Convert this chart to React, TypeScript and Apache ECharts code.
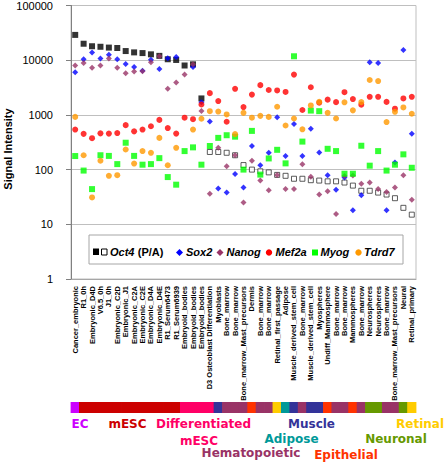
import React, { useEffect, useRef } from 'react';
import * as echarts from 'echarts';

const categories = [
  'Cancer_embryonic', 'R1_0h', 'Embryonic_D4D', 'V6.5_0h', 'J1_0h', 'Embryonic_C2D', 'Embryonic_J1',
  'Embryonic_C2A', 'Embryonic_C2E', 'Embryonic_D4A', 'Embryonic_D4E', 'R1_Serum6473', 'R1_Serum6939',
  'Embryoid_bodies', 'Embryoid_bodies', 'Embryoid_bodies', 'D3 Osteoblast Differentiation', 'Myoblasts',
  'Bone_marrow', 'Bone_marrow', 'Bone_marrow_Mast_precursors', 'Dermis', 'Bone_marrow', 'Bone_marrow',
  'Retinal_first_passage', 'Adipose', 'Muscle_derived_stem_cell', 'Bone_marrow', 'Muscle_derived_stem_cell',
  'Myospheres', 'Undiff_Mammosphere', 'Bone_marrow', 'Bone_marrow', 'Mammospheres', 'Bone_marrow',
  'Neurospheres', 'Neurospheres', 'Bone_marrow', 'Bone_marrow_Mast_precursors', 'Neural', 'Retinal_primary',
];

const N = null;
const oct4Present = [29000, 20000, 18000, 17600, 17000, 16700, 14700, 13900, 13500, 12800, 12000, 10400, 10100, 8000, 8400, 2000,
  N, N, N, N, N, N, N, N, N, N, N, N, N, N, N, N, N, N, N, N, N, N, N, N, N];
const oct4Absent = [N, N, N, N, N, N, N, N, N, N, N, N, N, N, N, N,
  210, 210, 203, 183, 121, 100, 93, 89, 80, 77, 68, 68, 64, 63, 61, 61, 58, 51, 41, 41, 38, 35, 30, 20, 15];
const sox2 = [6000, 10400, 13900, 10700, 12600, 10400, 8500, 7500, 6400, 10200,
  6900, 10800, 11500, N, 7500, 1700, 760, 45, 38, 83,
  47, 270, 120, 203, 910, 178, 680, 178, 560, 205,
  79, 43, 72, 18, 34, 9200, 8900, 18, 135, 15400, 450];
const nanog = [8000, 8900, 7300, 8000, 10700, 7300, 5800, 6200, 6300, 9200,
  11800, 3000, 3900, 5500, 8400, 1180, 36, 250, 115, 183,
  25, 145, 63, 42, 80, 44, 44, 125, 74, 35,
  40, 15.5, 76, 78, 55, 58, 44, 39, 47, 79, 28];
const mef2a = [540, 450, 375, 460, 455, 465, 650, 500, 540, 620,
  810, 575, 455, 890, 835, 1550, 2500, 1790, 750, 3000,
  1390, 2350, 3500, 2850, 2800, 2630, 5450, 1230, 3200, 1670,
  1900, 1710, 2600, 1950, 1540, 2140, 2140, 1730, 1300, 2000, 2140];
const myog = [177, 96, 44, 183, 178, 126, 310, 178, 123, 126,
  162, 73, 53, 218, 255, 123, 270, 380, 425, 400,
  100, 510, 81, 160, 230, 130, 11800, 325, 1200, 1170,
  240, 218, 84, 84, 273, 118, 218, 96, 123, 190, 108];
const tdrd7 = [920, 183, 31, 145, 77, 79, 233, 129, 218, 203,
  380, 120, 250, N, 540, 850, 1170, 1150, 1020, 445,
  1090, 890, 960, 920, 1410, 640, 860, 545, 1490, 1730,
  1090, 860, 1700, 1210, 1710, 4350, 4150, 740, 1140, 1370, 1050];

const tissueGroups = [
  'EC',
  'mESC', 'mESC', 'mESC', 'mESC', 'mESC', 'mESC', 'mESC', 'mESC', 'mESC', 'mESC', 'mESC', 'mESC',
  'Diff', 'Diff', 'Diff', 'Diff',
  'Muscle', 'Hemato', 'Hemato', 'Hemato', 'Epith', 'Hemato', 'Hemato', 'Retinal', 'Adipose', 'Muscle',
  'Hemato', 'Muscle', 'Muscle', 'Epith', 'Hemato', 'Hemato', 'Epith', 'Hemato', 'Neuronal', 'Neuronal',
  'Hemato', 'Hemato', 'Neuronal', 'Retinal',
];

const groupColors: Record<string, string> = {
  EC: '#cc00ff', mESC: '#cc0000', Diff: '#ff0066', Muscle: '#333399', Hemato: '#993366',
  Epith: '#ff3300', Retinal: '#ffcc00', Adipose: '#009999', Neuronal: '#669900',
};

const FONT = 'Arial, "Liberation Sans", sans-serif';
const BANDFONT = 'bold 12px "DejaVu Sans", sans-serif';

function diamond(cx: number, cy: number, r: number, color: string) {
  return {
    type: 'polygon',
    shape: { points: [[cx, cy - r], [cx + r, cy], [cx, cy + r], [cx - r, cy]] },
    style: { fill: color },
  };
}

function legendText(x: number, text: string) {
  return {
    type: 'text', x, y: 252,
    style: { text, font: `italic bold 11px ${FONT}`, fill: '#000', verticalAlign: 'middle' },
  };
}

function bandLabel(x: number, y: number, text: string, color: string, align = 'center') {
  return {
    type: 'text', x, y,
    style: { text, font: BANDFONT, fill: color, align, verticalAlign: 'middle' },
  };
}

export default function App() {
  const ref = useRef<HTMLDivElement>(null);
  useEffect(() => {
    document.body.style.margin = '0';
    const chart = echarts.init(ref.current!, null, { renderer: 'svg' });
    const scatter = (name: string, data: any[], symbol: string, size: number, color: string, extra: any = {}) => ({
      name, type: 'scatter', data, symbol, symbolSize: size,
      itemStyle: { color, ...extra }, xAxisIndex: 0, yAxisIndex: 0, silent: true,
    });
    chart.setOption({
      animation: false,
      textStyle: { fontFamily: FONT },
      grid: [
        { left: 71, right: 30, top: 2, bottom: 186, show: true, borderColor: '#bfbfbf', borderWidth: 1 },
        { left: 71, right: 30, top: 402, height: 11 },
      ],
      xAxis: [
        {
          type: 'category', data: categories, gridIndex: 0, boundaryGap: true,
          axisLine: { lineStyle: { color: '#a6a6a6' } }, axisTick: { show: false },
          axisLabel: { interval: 0, rotate: 90, fontSize: 7.5, fontWeight: 'bold', color: '#000', margin: 7, fontFamily: FONT },
        },
        { type: 'category', data: categories, gridIndex: 1, show: false },
      ],
      yAxis: [
        {
          type: 'log', logBase: 10, min: 1, max: 100000, gridIndex: 0,
          axisLine: { show: true, lineStyle: { color: '#808080' } },
          axisTick: { show: true, length: 5, lineStyle: { color: '#808080' } },
          axisLabel: { fontSize: 11, color: '#000', margin: 18, fontFamily: FONT, formatter: (v: number) => String(Math.round(v)) },
          splitLine: { show: true, lineStyle: { color: '#bfbfbf' } },
        },
        { type: 'value', gridIndex: 1, show: false, min: 0, max: 1 },
      ],
      series: [
        scatter('Oct4 P', oct4Present, 'rect', 6, '#000'),
        scatter('Oct4 A', oct4Absent, 'rect', 5, '#fff', { borderColor: '#333', borderWidth: 1 }),
        scatter('Sox2', sox2, 'diamond', 6, '#0000ff'),
        scatter('Nanog', nanog, 'diamond', 6, '#993366'),
        scatter('Mef2a', mef2a, 'circle', 6, '#ff0000'),
        scatter('Myog', myog, 'rect', 6, '#00ff00'),
        scatter('Tdrd7', tdrd7, 'circle', 6, '#ff9900'),
        {
          name: 'band', type: 'custom', xAxisIndex: 1, yAxisIndex: 1, silent: true,
          data: tissueGroups.map((g, i) => [i, 1]),
          renderItem: (params: any, api: any) => {
            const idx = api.value(0);
            const top = api.coord([idx, 1]);
            const bottom = api.coord([idx, 0]);
            const w = api.size([1, 0])[0];
            return {
              type: 'rect',
              shape: { x: top[0] - w / 2 - 0.4, y: top[1], width: w + 0.8, height: bottom[1] - top[1] },
              style: { fill: groupColors[tissueGroups[idx]] },
            };
          },
        },
      ],
      graphic: [
        {
          type: 'text', x: 8, y: 149, rotation: Math.PI / 2,
          style: { text: 'Signal Intensity', font: `bold 11px ${FONT}`, fill: '#000', align: 'center', verticalAlign: 'middle' },
        },
        {
          type: 'group',
          children: [
            { type: 'rect', shape: { x: 89, y: 235, width: 314, height: 29 }, style: { fill: '#fff', stroke: '#a6a6a6', lineWidth: 1 } },
            { type: 'rect', shape: { x: 93, y: 248.5, width: 6, height: 6.5 }, style: { fill: '#000' } },
            { type: 'rect', shape: { x: 101.5, y: 249, width: 5.5, height: 6 }, style: { fill: '#fff', stroke: '#000', lineWidth: 1 } },
            {
              type: 'text', x: 110, y: 252,
              style: {
                text: '{i|Oct4} {b|(P/A)}', verticalAlign: 'middle',
                rich: {
                  i: { font: `italic bold 11px ${FONT}`, fill: '#000' },
                  b: { font: `bold 11px ${FONT}`, fill: '#000' },
                },
              },
            },
            diamond(179.5, 252.5, 3.5, '#0000ff'),
            legendText(186, 'Sox2'),
            diamond(220, 252.5, 3.5, '#993366'),
            legendText(226.5, 'Nanog'),
            { type: 'circle', shape: { cx: 269, cy: 252.5, r: 3.2 }, style: { fill: '#ff0000' } },
            legendText(275.5, 'Mef2a'),
            { type: 'rect', shape: { x: 312, y: 249.5, width: 6, height: 6 }, style: { fill: '#00ff00' } },
            legendText(320.5, 'Myog'),
            { type: 'circle', shape: { cx: 358.5, cy: 252.5, r: 3.2 }, style: { fill: '#ff9900' } },
            legendText(364, 'Tdrd7'),
          ],
        },
        bandLabel(80, 424, 'EC', '#cc00ff'),
        bandLabel(127.5, 424, 'mESC', '#cc0000'),
        bandLabel(203.5, 424, 'Differentiated', '#ff0066'),
        bandLabel(199, 440.5, 'mESC', '#ff0066'),
        bandLabel(251, 453, 'Hematopoietic', '#993366'),
        bandLabel(311.5, 424, 'Muscle', '#333399'),
        bandLabel(291.5, 439, 'Adipose', '#009999'),
        bandLabel(346, 454.5, 'Epithelial', '#ff3300'),
        bandLabel(444, 424, 'Retinal', '#ffcc00', 'right'),
        bandLabel(396, 439, 'Neuronal', '#669900'),
      ],
    });
    return () => chart.dispose();
  }, []);
  return <div ref={ref} style={{ width: 446, height: 465 }} />;
}
